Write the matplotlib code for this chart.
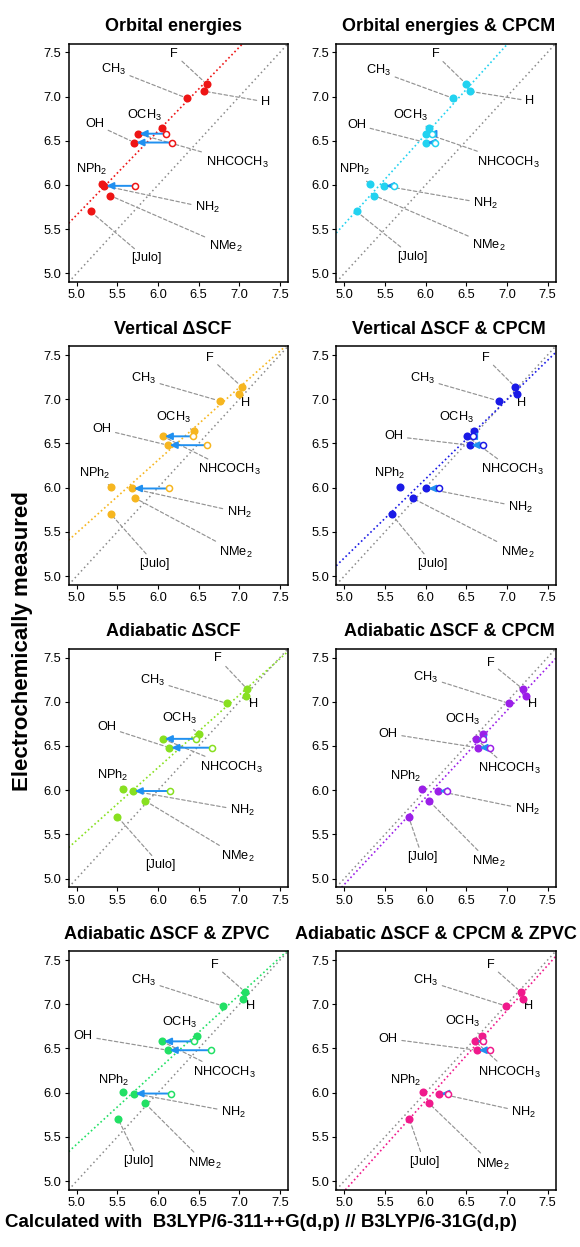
import matplotlib
matplotlib.use('Agg')
import matplotlib.pyplot as plt
import numpy as np

plt.rcParams['font.family'] = ['Liberation Sans', 'DejaVu Sans']
plt.rcParams['mathtext.fontset'] = 'custom'
plt.rcParams['mathtext.rm'] = 'Liberation Sans'
plt.rcParams['mathtext.it'] = 'Liberation Sans:italic'
plt.rcParams['mathtext.bf'] = 'Liberation Sans:bold'

# substituents, same order everywhere
labels = ['F', 'H', 'CH$_3$', 'OCH$_3$', 'NHCOCH$_3$', 'OH',
          'NPh$_2$', 'NH$_2$', 'NMe$_2$', '[Julo]']
measured = [7.14, 7.06, 6.98, 6.64, 6.58, 6.48, 6.01, 5.99, 5.88, 5.70]

# calculated values (filled points)
orb = [6.60, 6.57, 6.36, 6.05, 5.75, 5.71, 5.31, 5.34, 5.41, 5.17]
orb_cpcm = [6.50, 6.54, 6.34, 6.04, 6.01, 6.00, 5.31, 5.49, 5.37, 5.15]
vert = [7.03, 7.00, 6.76, 6.44, 6.06, 6.12, 5.42, 5.68, 5.72, 5.42]
vert_cpcm = [7.10, 7.13, 6.90, 6.59, 6.51, 6.54, 5.68, 6.01, 5.84, 5.58]
adia = [7.10, 7.08, 6.85, 6.50, 6.06, 6.14, 5.57, 5.69, 5.84, 5.50]
adia_cpcm = [7.20, 7.24, 7.03, 6.71, 6.62, 6.64, 5.96, 6.15, 6.04, 5.79]
adia_zpvc = [7.07, 7.05, 6.80, 6.48, 6.05, 6.12, 5.57, 5.70, 5.84, 5.51]
adia_cpcm_zpvc = [7.17, 7.20, 6.99, 6.69, 6.61, 6.63, 5.97, 6.17, 6.04, 5.80]

# other conformer (open circles) for NHCOCH3, OH, NH2
arrow_idx = [4, 5, 7]
orb_start = [6.10, 6.17, 5.72]
orb_cpcm_start = [6.08, 6.12, 5.61]
vert_start = [6.43, 6.60, 6.13]
vert_cpcm_start = [6.58, 6.70, 6.16]
adia_start = [6.47, 6.67, 6.15]
adia_cpcm_start = [6.71, 6.79, 6.26]
adia_zpvc_start = [6.44, 6.65, 6.16]
adia_cpcm_zpvc_start = [6.70, 6.79, 6.28]

titles = ['Orbital energies', 'Orbital energies & CPCM',
          'Vertical ΔSCF', 'Vertical ΔSCF & CPCM',
          'Adiabatic ΔSCF', 'Adiabatic ΔSCF & CPCM',
          'Adiabatic ΔSCF & ZPVC', 'Adiabatic ΔSCF & CPCM & ZPVC']
colors = ['#EE1515', '#22D2F0', '#F6B620', '#1A1AE6',
          '#88E020', '#9B1FE8', '#22E065', '#F01A8C']
calc = [orb, orb_cpcm, vert, vert_cpcm, adia, adia_cpcm, adia_zpvc, adia_cpcm_zpvc]
starts = [orb_start, orb_cpcm_start, vert_start, vert_cpcm_start,
          adia_start, adia_cpcm_start, adia_zpvc_start, adia_cpcm_zpvc_start]

# label text positions (layout)
label_pos = [
    [(6.20, 7.48), (7.32, 6.94), (5.45, 7.31), (5.84, 6.79), (6.97, 6.26),
     (5.22, 6.69), (5.18, 6.17), (6.61, 5.74), (6.83, 5.31), (5.85, 5.17)],
    [(6.12, 7.48), (7.28, 6.95), (5.42, 7.29), (5.82, 6.79), (7.02, 6.26),
     (5.15, 6.68), (5.13, 6.17), (6.74, 5.79), (6.78, 5.32), (5.84, 5.19)],
    [(6.64, 7.47), (7.08, 6.96), (5.82, 7.23), (6.19, 6.79), (6.88, 6.20),
     (5.31, 6.66), (5.22, 6.16), (7.00, 5.72), (6.96, 5.27), (5.96, 5.14)],
    [(6.74, 7.47), (7.18, 6.96), (5.96, 7.23), (6.38, 6.79), (7.07, 6.20),
     (5.61, 6.58), (5.56, 6.16), (7.17, 5.78), (7.13, 5.27), (6.08, 5.14)],
    [(6.74, 7.49), (7.17, 6.97), (5.93, 7.24), (6.26, 6.81), (6.90, 6.26),
     (5.37, 6.71), (5.44, 6.17), (7.04, 5.77), (6.98, 5.25), (6.03, 5.15)],
    [(6.80, 7.44), (7.31, 6.97), (6.00, 7.28), (6.45, 6.80), (7.03, 6.24),
     (5.54, 6.64), (5.75, 6.16), (7.25, 5.78), (6.78, 5.19), (5.96, 5.24)],
    [(6.70, 7.44), (7.14, 6.98), (5.82, 7.27), (6.27, 6.79), (6.81, 6.23),
     (5.08, 6.64), (5.45, 6.14), (6.93, 5.78), (6.58, 5.20), (5.76, 5.23)],
    [(6.80, 7.44), (7.27, 6.98), (6.00, 7.27), (6.46, 6.80), (7.03, 6.23),
     (5.54, 6.61), (5.75, 6.14), (7.21, 5.78), (6.82, 5.19), (5.98, 5.22)],
]
title_x = [0.476, 0.514, 0.476, 0.514, 0.476, 0.514, 0.448, 0.455]

arrow_color = '#2090F0'

fig = plt.figure(figsize=(5.8, 12.47), dpi=100)
lefts = [0.1183, 0.5797]
bottoms = [0.7737, 0.5310, 0.2884, 0.0458]
w, h = 0.3784, 0.1914

for i in range(8):
    ax = fig.add_axes([lefts[i % 2], bottoms[i // 2], w, h])
    x = np.array(calc[i])
    y = np.array(measured)
    col = colors[i]

    ax.axline((5, 5), slope=1, color='#8a8a8a', lw=1.1, ls=(0, (1, 2)), zorder=1)
    m, b = np.polyfit(x, y, 1)
    ax.axline((5, m * 5 + b), slope=m, color=col, lw=1.2, ls=(0, (1, 1.6)), zorder=1)

    for j, lab in enumerate(labels):
        ax.annotate(lab, xy=(x[j], y[j]), xytext=label_pos[i][j],
                    ha='center', va='center', fontsize=9.2, zorder=2,
                    arrowprops=dict(arrowstyle='-', color='#939393', lw=0.85,
                                    ls=(0, (3, 2)), shrinkA=1, shrinkB=3))

    ax.plot(x, y, 'o', ms=5.8, color=col, mec='none', zorder=4)

    # blue arrows from the open circle to the filled point
    for k, j in enumerate(arrow_idx):
        ax.annotate('', xy=(x[j], y[j]), xytext=(starts[i][k], y[j]), zorder=5,
                    arrowprops=dict(arrowstyle='-|>,head_length=0.42,head_width=0.2',
                                    color=arrow_color, lw=1.4, mutation_scale=10,
                                    shrinkA=0, shrinkB=1.4))
        ax.plot(starts[i][k], y[j], 'o', ms=4.4, mfc='white', mec=col, mew=1.1, zorder=6)

    ax.set_xlim(4.9, 7.6)
    ax.set_ylim(4.9, 7.6)
    ticks = [5.0, 5.5, 6.0, 6.5, 7.0, 7.5]
    ax.set_xticks(ticks)
    ax.set_yticks(ticks)
    ax.set_xticklabels(['%.1f' % t for t in ticks])
    ax.set_yticklabels(['%.1f' % t for t in ticks])
    ax.tick_params(length=3.2, width=0.8, pad=2, labelsize=9.3)
    for s in ax.spines.values():
        s.set_linewidth(1.1)
    ax.text(title_x[i], 1.07, titles[i], transform=ax.transAxes, ha='center',
            va='center', fontsize=13, fontweight='bold')

fig.text(0.038, 0.486, 'Electrochemically measured', rotation=90, ha='center',
         va='center', fontsize=16, fontweight='bold')
fig.text(0.45, 0.02, 'Calculated with  B3LYP/6-311++G(d,p) // B3LYP/6-31G(d,p)',
         ha='center', va='center', fontsize=13.5, fontweight='bold')

fig.savefig('out.png', dpi=100)
